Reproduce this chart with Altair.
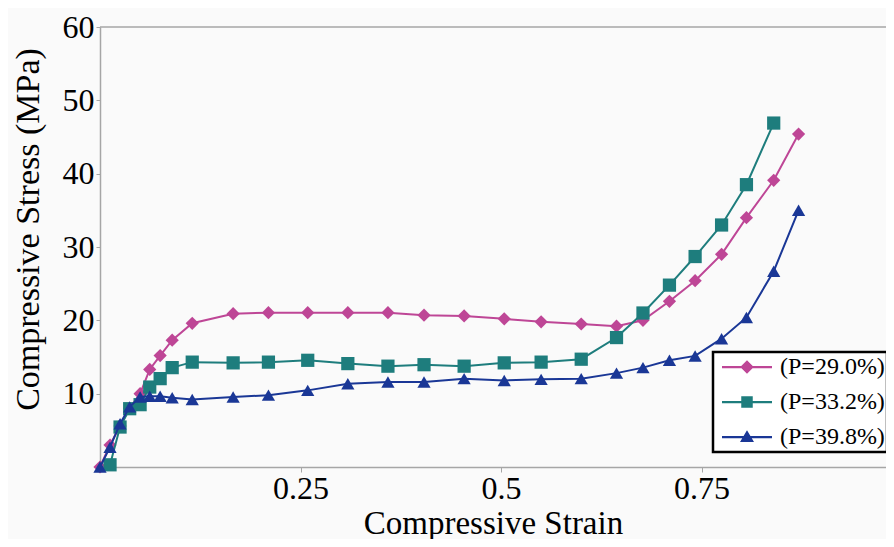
import altair as alt
import pandas as pd

labels = ["(P=29.0%)", "(P=33.2%)", "(P=39.8%)"]
colors = ["#be4696", "#1e7d7d", "#1a3796"]
shapes = ["diamond", "square", "triangle-up"]

strain_29 = [0, 0.0125, 0.025, 0.037, 0.05, 0.062, 0.075, 0.09, 0.115, 0.166, 0.21, 0.259, 0.309,
             0.359, 0.404, 0.454, 0.504, 0.55, 0.6, 0.644, 0.677, 0.71, 0.742, 0.775, 0.806, 0.84, 0.871]
stress_29 = [0, 3.0, 5.6, 8.0, 10.0, 13.3, 15.2, 17.3, 19.6, 20.9, 21.05, 21.05, 21.05,
             21.05, 20.7, 20.6, 20.2, 19.8, 19.5, 19.2, 20.0, 22.6, 25.4, 29.0, 34.0, 39.1, 45.4]

strain_33 = [0.0125, 0.025, 0.037, 0.05, 0.062, 0.075, 0.09, 0.115, 0.166, 0.21, 0.259, 0.309,
             0.359, 0.404, 0.454, 0.504, 0.55, 0.6, 0.644, 0.677, 0.71, 0.742, 0.775, 0.806, 0.84]
stress_33 = [0.3, 5.45, 7.95, 8.5, 10.9, 12.05, 13.55, 14.3, 14.2, 14.3, 14.55, 14.1,
             13.75, 13.95, 13.75, 14.2, 14.3, 14.7, 17.65, 21.0, 24.8, 28.7, 33.0, 38.5, 46.9]

strain_39 = [0, 0.0125, 0.025, 0.037, 0.05, 0.062, 0.075, 0.09, 0.115, 0.166, 0.21, 0.259, 0.309,
             0.359, 0.404, 0.454, 0.504, 0.55, 0.6, 0.644, 0.677, 0.71, 0.742, 0.775, 0.806, 0.84, 0.871]
stress_39 = [0, 2.7, 5.9, 8.2, 9.55, 9.65, 9.65, 9.45, 9.2, 9.55, 9.8, 10.45, 11.35,
             11.6, 11.6, 12.05, 11.8, 11.95, 12.05, 12.8, 13.55, 14.55, 15.15, 17.5, 20.4, 26.7, 35.0]

x_ticks = [0.25, 0.5, 0.75]
y_ticks = [10, 20, 30, 40, 50, 60]

rows = []
for lab, xs, ys in zip(labels, [strain_29, strain_33, strain_39], [stress_29, stress_33, stress_39]):
    for i, (x, y) in enumerate(zip(xs, ys)):
        rows.append({"series": lab, "strain": x, "stress": y, "order": i})
df = pd.DataFrame(rows)

FONT = "Liberation Serif, Times New Roman, DejaVu Serif, serif"
GRAY = "#a6a6a6"

xscale = alt.Scale(domain=[0, 0.98], nice=False, zero=False)
yscale = alt.Scale(domain=[0, 60], nice=False)

# legend symbols: a line segment with the marker on it (filled closed paths)
legend_paths = [
    "M-1,-0.045H1V0.045H-1ZM0,-0.27L0.27,0L0,0.27L-0.27,0Z",
    "M-1,-0.045H1V0.045H-1ZM-0.23,-0.23H0.23V0.23H-0.23Z",
    "M-1,-0.045H1V0.045H-1ZM0,-0.27L0.28,0.2H-0.28Z",
]

legend = alt.Legend(
    title=None, orient="none", legendX=613, legendY=325,
    padding=2, clipHeight=26, rowPadding=9, symbolOffset=7, labelOffset=8,
    labelFont=FONT, labelFontSize=24, labelColor="black",
    strokeColor="black", fillColor="white", symbolSize=2500,
    symbolStrokeWidth=0, symbolOpacity=1,
)

x_axis = alt.Axis(values=x_ticks, format=".2~f", title="Compressive Strain")
y_axis = alt.Axis(values=y_ticks, title="Compressive Stress (MPa)")

base = alt.Chart(df)
layers = [
    alt.Chart(pd.DataFrame({"v": [60]})).mark_rule(color=GRAY, strokeWidth=1.5).encode(
        y=alt.datum(60, scale=yscale, axis=y_axis)
    )
]
for lab, col, shp in zip(labels, colors, shapes):
    sub = base.transform_filter(alt.datum.series == lab)
    xenc = alt.X("strain:Q", scale=xscale, axis=x_axis)
    yenc = alt.Y("stress:Q", scale=yscale, axis=y_axis)
    layers.append(sub.mark_line(strokeWidth=2, color=col).encode(x=xenc, y=yenc, order="order:Q"))
    layers.append(sub.mark_point(filled=True, opacity=1, size=175, shape=shp, color=col).encode(
        x=xenc, y=yenc))

legend_layer = base.transform_filter("false").mark_point(filled=True, opacity=1, size=2500).encode(
    x=alt.X("strain:Q", scale=xscale, axis=x_axis),
    y=alt.Y("stress:Q", scale=yscale, axis=y_axis),
    color=alt.Color("series:N", scale=alt.Scale(domain=labels, range=colors), legend=legend),
    shape=alt.Shape("series:N", scale=alt.Scale(domain=labels, range=legend_paths), legend=legend),
)
layers.append(legend_layer)

chart = alt.layer(*layers).properties(
    width=786, height=440,
    padding={"left": 92, "top": 19, "right": 0, "bottom": 72},
    autosize=alt.AutoSizeParams(type="none"),
    background="#fafafa",
).configure_view(stroke=None).configure_axis(
    grid=False, labelFont=FONT, labelColor="black", titleFont=FONT,
    titleFontWeight="normal", titleColor="black", tickColor=GRAY,
    domainColor=GRAY, domainWidth=1.5,
).configure_axisX(
    labelFontSize=32, labelPadding=1, tickSize=5,
    titleFontSize=33, titleBaseline="alphabetic", titleY=66,
).configure_axisY(
    labelFontSize=32, labelPadding=2, tickSize=4,
    titleFontSize=34, titleBaseline="alphabetic", titleX=-62, titleY=202, titleAlign="center",
).configure_legend(labelFont=FONT, strokeWidth=2.5)

chart.save("out.html", embed_options={"renderer": "svg", "actions": False})
